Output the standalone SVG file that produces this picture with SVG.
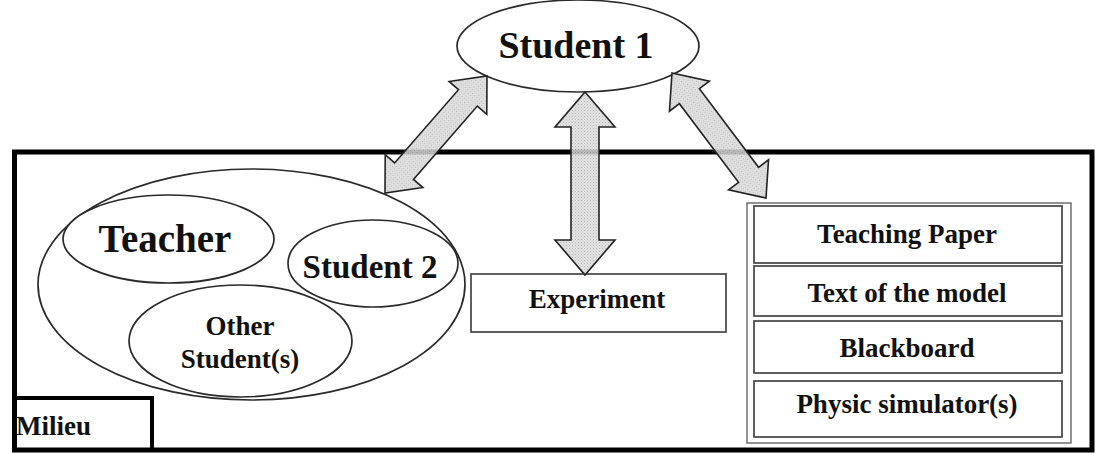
<svg xmlns="http://www.w3.org/2000/svg" width="1104" height="454" viewBox="0 0 1104 454">
<defs>
<pattern id="hatch" width="3" height="3" patternUnits="userSpaceOnUse">
<rect width="3" height="3" fill="#dedede"/>
<rect width="1" height="1" fill="#a8a8a8"/>
<rect x="1.5" y="1.5" width="1" height="1" fill="#bcbcbc"/>
</pattern>
</defs>
<style>
.el{fill:#fff;stroke:#2a2a2a;stroke-width:1.7}
.t{font-family:"Liberation Serif","Times New Roman",serif;font-weight:bold;fill:#111;text-anchor:middle}
.box{fill:#fff;stroke:#444;stroke-width:1.7}
.arr{fill:url(#hatch);fill-opacity:0.85;stroke:#222;stroke-width:1.6;stroke-linejoin:miter}
</style>
<rect x="0" y="0" width="1104" height="454" fill="#fff"/>
<g id="milieu-frame">
<rect x="14.5" y="152" width="1077.5" height="298" fill="none" stroke="#000" stroke-width="5"/>
</g>
<g id="milieu-label">
<rect x="14.5" y="398" width="137.5" height="52" fill="none" stroke="#000" stroke-width="4"/>
<text class="t" x="16" y="435" font-size="27" style="text-anchor:start">Milieu</text>
</g>
<g id="student1">
<ellipse class="el" cx="578" cy="46" rx="121" ry="46"/>
<text class="t" x="576" y="58" font-size="38">Student 1</text>
</g>
<g id="group">
<ellipse class="el" cx="251.5" cy="284.5" rx="213.5" ry="115.5"/>
</g>
<g id="teacher">
<ellipse class="el" cx="168.5" cy="239" rx="105.5" ry="44"/>
<text class="t" x="165" y="252" font-size="39">Teacher</text>
</g>
<g id="student2">
<ellipse class="el" cx="373" cy="263.5" rx="85" ry="43.5"/>
<text class="t" x="370" y="278" font-size="33">Student 2</text>
</g>
<g id="others">
<ellipse class="el" cx="240.5" cy="341" rx="111.5" ry="56"/>
<text class="t" x="240" y="335" font-size="27">Other</text>
<text class="t" x="240" y="368" font-size="27">Student(s)</text>
</g>
<g id="experiment">
<rect class="box" x="471" y="274" width="255" height="58"/>
<text class="t" x="597" y="308" font-size="27">Experiment</text>
</g>
<g id="resources">
<rect x="747" y="203" width="324" height="240" fill="#fff" stroke="#666" stroke-width="1.4"/>
<g id="teaching-paper">
<rect class="box" x="754" y="206" width="308" height="57"/>
<text class="t" x="907" y="243" font-size="27">Teaching Paper</text>
</g>
<g id="text-model">
<rect class="box" x="754" y="266" width="308" height="50"/>
<text class="t" x="907" y="302" font-size="27">Text of the model</text>
</g>
<g id="blackboard">
<rect class="box" x="754" y="321" width="308" height="52"/>
<text class="t" x="907" y="357" font-size="27">Blackboard</text>
</g>
<g id="simulator">
<rect class="box" x="754" y="381" width="308" height="56"/>
<text class="t" x="907" y="413" font-size="27">Physic simulator(s)</text>
</g>
</g>
<g id="connectors">
<path class="arr" transform="translate(385,193) rotate(-48.92)" d="M0,0 L29,-25 L29,-12.5 L126.2,-12.5 L126.2,-25 L155.2,0 L126.2,25 L126.2,12.5 L29,12.5 L29,25 Z"/>
<path class="arr" transform="translate(585,92) rotate(90)" d="M0,0 L35,-30 L35,-14 L148,-14 L148,-30 L183,0 L148,30 L148,14 L35,14 L35,30 Z"/>
<path class="arr" transform="translate(672,73) rotate(53.06)" d="M0,0 L29,-25 L29,-12.5 L127.4,-12.5 L127.4,-25 L156.4,0 L127.4,25 L127.4,12.5 L29,12.5 L29,25 Z"/>
</g>
</svg>
